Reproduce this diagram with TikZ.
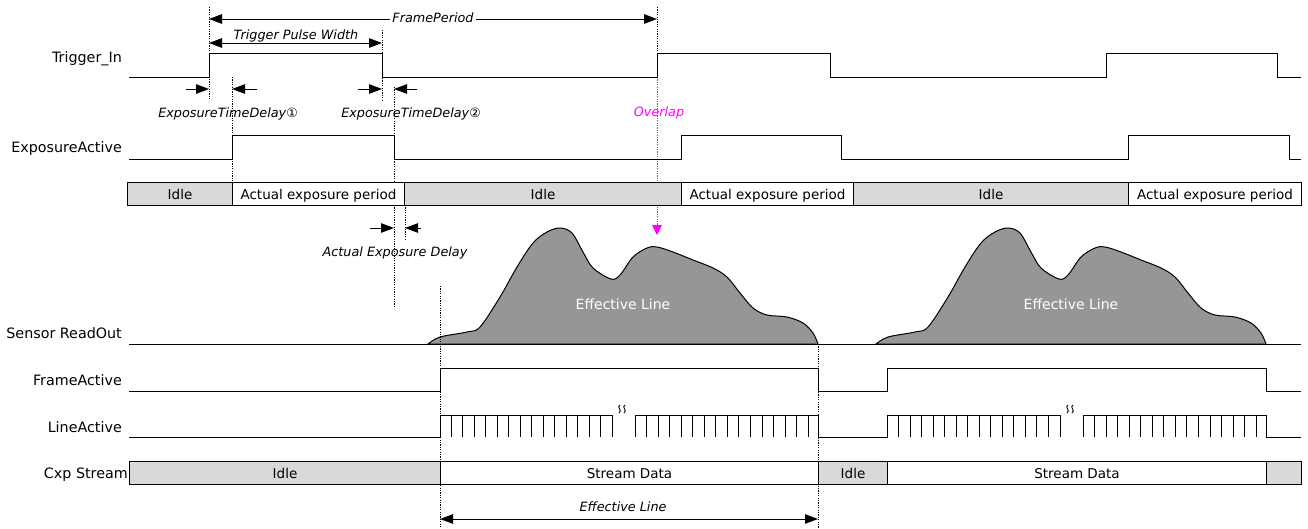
\documentclass[tikz,border=0pt]{standalone}
\usepackage{fontspec}
\setmainfont{DejaVu Sans}
\usetikzlibrary{arrows.meta}
\definecolor{idlegray}{HTML}{D9D9D9}
\definecolor{shapegray}{HTML}{969696}
\definecolor{ovl}{HTML}{FF00FF}
\begin{document}
\begin{tikzpicture}[x=1pt,y=-1pt,
  sig/.style={line width=1pt, line join=miter},
  guide/.style={line width=0.9pt, dash pattern=on 1.2pt off 1.2pt},
  lbl/.style={anchor=base east, font=\fontsize{14.3}{16}\selectfont, inner sep=0pt},
  ann/.style={anchor=base, font=\fontsize{12.8}{15}\selectfont\itshape, inner sep=0pt},
  seg/.style={draw, line width=1pt, anchor=north west, minimum height=23pt, inner sep=0pt, text height=10pt, text depth=0pt, font=\fontsize{13.5}{15}\selectfont},
  idlebox/.style={seg, fill=idlegray},
  actbox/.style={seg, fill=white},
  tip/.style={-{Triangle[length=13pt,width=9.5pt]}, line width=1pt},
  dtip/.style={{Triangle[length=13pt,width=9.5pt]}-{Triangle[length=13pt,width=9.5pt]}, line width=1pt},
  wave/.style={line width=0.9pt}
]
\useasboundingbox (0,0) rectangle (1308,528);

% ---------- sensor readout shapes ----------
\draw[line width=1pt, fill=shapegray] plot[smooth, tension=0.55] coordinates {(428,344) (440,337) (467,332) (480,327) (500,297) (517,267) (533,243) (547,232) (560,228) (572,233) (583,252) (593,268) (611,279) (620,275) (633,257) (647,248) (657,247) (673,252) (693,260) (713,268) (727,277) (740,293) (753,308) (767,315) (787,317) (803,323) (813,333) (818,344)} -- cycle;
\begin{scope}[xshift=448]
\draw[line width=1pt, fill=shapegray] plot[smooth, tension=0.55] coordinates {(428,344) (440,337) (467,332) (480,327) (500,297) (517,267) (533,243) (547,232) (560,228) (572,233) (583,252) (593,268) (611,279) (620,275) (633,257) (647,248) (657,247) (673,252) (693,260) (713,268) (727,277) (740,293) (753,308) (767,315) (787,317) (803,323) (813,333) (818,344)} -- cycle;
\end{scope}
\node[font=\fontsize{14}{16}\selectfont, text=white, anchor=base, inner sep=0pt] (eff1) at (623,309) {Effective Line};
\node[font=\fontsize{14}{16}\selectfont, text=white, anchor=base, inner sep=0pt] (eff2) at (1071,309) {Effective Line};

% ---------- guides ----------
\draw[guide] (209,7) -- (209,100);
\draw[guide] (232,77) -- (232,182);
\draw[guide] (382,30) -- (382,100);
\draw[guide] (394,87) -- (394,182);
\draw[guide] (394,205) -- (394,307);
\draw[guide] (405,205) -- (405,240);
\draw[guide] (657,7) -- (657,53);
\draw[guide] (440,286) -- (440,528);
\draw[guide] (818,344) -- (818,528);
\coordinate (ovtop) at (657,77);
\coordinate (ovtip) at (657,235);
\draw[guide, ovl, -{Triangle[length=10pt,width=10pt]}] (ovtop) -- (ovtip);

% ---------- labels ----------
\node[lbl] (lTrig) at (122,62) {Trigger\_In};
\node[lbl] (lExp) at (122,152) {ExposureActive};
\node[lbl] (lSens) at (122,338) {Sensor ReadOut};
\node[lbl] (lFrame) at (122,385) {FrameActive};
\node[lbl] (lLine) at (122,432) {LineActive};
\node[lbl] (lCxp) at (128,478) {Cxp Stream};

% ---------- waveforms ----------
\draw[sig] (129,77) -| (209,53) -| (382,77) -| (657,53) -| (830,77) -| (1106,53) -| (1277,77) -- (1301,77);
\draw[sig] (129,159) -| (232,135) -| (394,159) -| (681,135) -| (841,159) -| (1128,135) -| (1289,159) -- (1301,159);
\draw[sig] (129,344) -- (1301,344);
\draw[sig] (129,391) -| (440,368) -| (818,391) -| (887,368) -| (1266,391) -- (1301,391);
% LineActive
\draw[sig] (129,437) -| (440,415) -- (612,415) -- (612,437);
\foreach \k in {1,...,14} \draw[sig] ({440+\k*172/15},415) -- ++(0,22);
\draw[sig] (635,437) -- (635,415) -- (818,415) -- (818,437) -- (887,437) -- (887,415) -- (1060,415) -- (1060,437);
\foreach \k in {1,...,15} \draw[sig] ({635+\k*11.55},415) -- ++(0,22);
\foreach \k in {1,...,14} \draw[sig] ({887+\k*173/15},415) -- ++(0,22);
\draw[sig] (1083,437) -- (1083,415) -- (1266,415) -- (1266,437) -- (1301,437);
\foreach \k in {1,...,15} \draw[sig] ({1083+\k*11.55},415) -- ++(0,22);
% break marks
\foreach \x in {619.5,624.5,1067.5,1072.5}
  \draw[wave] (\x+0.5,405) .. controls (\x-3.5,407) and (\x+3.5,410.5) .. (\x-0.5,413);

% ---------- state bars ----------
\node[idlebox, minimum width=105pt] (e1) at (127,182) {Idle};
\node[actbox, minimum width=172pt] (e2) at (232,182) {Actual exposure period};
\node[idlebox, minimum width=277pt] (e3) at (404,182) {Idle};
\node[actbox, minimum width=172pt] (e4) at (681,182) {Actual exposure period};
\node[idlebox, minimum width=275pt] (e5) at (853,182) {Idle};
\node[actbox, minimum width=173pt] (e6) at (1128,182) {Actual exposure period};

\node[idlebox, minimum width=311pt] (c1) at (129,461) {Idle};
\node[actbox, minimum width=378pt] (c2) at (440,461) {Stream Data};
\node[idlebox, minimum width=69pt] (c3) at (818,461) {Idle};
\node[actbox, minimum width=379pt] (c4) at (887,461) {Stream Data};
\node[idlebox, minimum width=35pt] (c5) at (1266,461) {};

% ---------- dimension arrows ----------
\coordinate (fpL) at (209,19); \coordinate (fpR) at (657,19);
\draw[dtip] (fpL) -- (fpR);
\node[ann, fill=white, inner xsep=2pt, inner ysep=1pt] (tFP) at (433,22) {FramePeriod};

\coordinate (tpL) at (209,43); \coordinate (tpR) at (382,43);
\draw[dtip] (tpL) -- (tpR);
\node[ann] (tTPW) at (296,39.5) {Trigger Pulse Width};

\coordinate (d1a) at (186,89); \coordinate (d1b) at (209,89);
\coordinate (d1c) at (257,89); \coordinate (d1d) at (232,89);
\draw[tip] (d1a) -- (d1b);
\draw[tip] (d1c) -- (d1d);
\node[ann] (tD1) at (228,117.5) {ExposureTimeDelay①};

\coordinate (d2a) at (358,89); \coordinate (d2b) at (382,89);
\coordinate (d2c) at (417,89); \coordinate (d2d) at (394,89);
\draw[tip] (d2a) -- (d2b);
\draw[tip] (d2c) -- (d2d);
\node[ann] (tD2) at (411,117.5) {ExposureTimeDelay②};

\node[ann, text=ovl] (tOv) at (659,116) {Overlap};

\coordinate (aeA) at (370,228); \coordinate (aeB) at (394,228);
\coordinate (aeC) at (421,228); \coordinate (aeD) at (405,228);
\draw[tip] (aeA) -- (aeB);
\draw[tip] (aeC) -- (aeD);
\node[ann] (tAED) at (395,256) {Actual Exposure Delay};

\coordinate (elL) at (440,519); \coordinate (elR) at (818,519);
\draw[dtip] (elL) -- (elR);
\node[ann] (tEL) at (623,511.5) {Effective Line};
\end{tikzpicture}
\end{document}
